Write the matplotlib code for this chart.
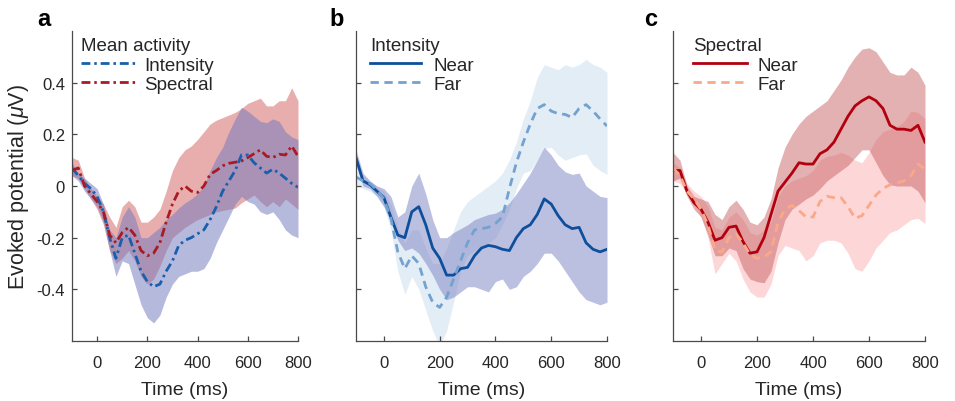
import matplotlib
matplotlib.use("Agg")
import matplotlib.pyplot as plt
import numpy as np

plt.rcParams["font.family"] = ["Liberation Sans", "DejaVu Sans"]
plt.rcParams["mathtext.fontset"] = "custom"
plt.rcParams["mathtext.rm"] = "Liberation Sans"
plt.rcParams["mathtext.it"] = "Liberation Sans:italic"
plt.rcParams["axes.unicode_minus"] = False

# sample times (ms)
TIME = list(range(-100, 801, 25))

# panel a: mean activity (Intensity / Spectral) with error bands
INT_MEAN = [0.07, 0.04, 0.01, -0.01, -0.04, -0.10, -0.20, -0.28, -0.20, -0.19,
            -0.26, -0.33, -0.37, -0.39, -0.38, -0.33, -0.29, -0.23, -0.21, -0.20,
            -0.185, -0.17, -0.13, -0.08, -0.02, 0.02, 0.06, 0.12, 0.12, 0.09,
            0.07, 0.05, 0.065, 0.05, 0.03, 0.01, -0.005]
INT_UP = [0.09, 0.05, 0.03, 0.01, -0.01, -0.07, -0.17, -0.20, -0.12, -0.08,
          -0.12, -0.20, -0.20, -0.18, -0.16, -0.13, -0.11, -0.085, -0.065, -0.05,
          -0.03, 0.0, 0.06, 0.11, 0.15, 0.21, 0.26, 0.305, 0.29, 0.27,
          0.25, 0.245, 0.26, 0.25, 0.21, 0.19, 0.18]
INT_LO = [0.04, 0.02, -0.02, -0.05, -0.08, -0.14, -0.25, -0.35, -0.29, -0.30,
          -0.38, -0.46, -0.51, -0.53, -0.50, -0.43, -0.38, -0.35, -0.34, -0.33,
          -0.33, -0.32, -0.28, -0.22, -0.17, -0.12, -0.07, -0.04, -0.06, -0.07,
          -0.10, -0.11, -0.10, -0.13, -0.17, -0.19, -0.20]
SPE_MEAN = [0.06, 0.07, 0.0, -0.03, -0.06, -0.10, -0.19, -0.22, -0.18, -0.16,
            -0.19, -0.25, -0.27, -0.26, -0.22, -0.14, -0.07, -0.02, 0.0, -0.02,
            -0.025, 0.0, 0.045, 0.06, 0.078, 0.088, 0.092, 0.097, 0.11, 0.125,
            0.14, 0.115, 0.11, 0.123, 0.12, 0.155, 0.115]
SPE_UP = [0.11, 0.10, 0.03, -0.01, -0.04, -0.07, -0.12, -0.16, -0.08, -0.055,
          -0.08, -0.14, -0.14, -0.12, -0.09, -0.02, 0.06, 0.11, 0.14, 0.155,
          0.18, 0.21, 0.24, 0.255, 0.265, 0.275, 0.285, 0.30, 0.32, 0.33,
          0.34, 0.31, 0.31, 0.33, 0.33, 0.38, 0.33]
SPE_LO = [0.04, 0.03, -0.01, -0.05, -0.09, -0.15, -0.25, -0.30, -0.28, -0.25,
          -0.29, -0.35, -0.38, -0.36, -0.31, -0.25, -0.20, -0.18, -0.16, -0.145,
          -0.13, -0.12, -0.11, -0.10, -0.095, -0.09, -0.085, -0.065, -0.05, -0.035,
          -0.06, -0.08, -0.06, -0.08, -0.05, -0.07, -0.09]

# panel b: Intensity, near vs far
BN_MEAN = [0.11, 0.02, 0.005, -0.02, -0.045, -0.12, -0.19, -0.20, -0.10, -0.08,
           -0.15, -0.24, -0.28, -0.345, -0.345, -0.32, -0.315, -0.27, -0.24, -0.23,
           -0.235, -0.245, -0.25, -0.20, -0.165, -0.15, -0.11, -0.05, -0.07, -0.115,
           -0.15, -0.165, -0.16, -0.22, -0.245, -0.255, -0.245]
BN_UP = [0.14, 0.05, 0.02, 0.0, -0.01, -0.04, -0.12, -0.10, 0.0, 0.05,
         -0.03, -0.13, -0.20, -0.20, -0.18, -0.165, -0.15, -0.13, -0.12, -0.11,
         -0.105, -0.09, -0.065, -0.03, 0.01, 0.05, 0.10, 0.15, 0.12, 0.08,
         0.055, 0.045, 0.05, 0.0, -0.02, -0.04, -0.045]
BN_LO = [0.08, 0.0, -0.01, -0.04, -0.08, -0.14, -0.21, -0.25, -0.24, -0.26,
         -0.30, -0.345, -0.40, -0.44, -0.43, -0.41, -0.39, -0.39, -0.40, -0.41,
         -0.37, -0.36, -0.40, -0.39, -0.35, -0.33, -0.30, -0.26, -0.26, -0.29,
         -0.33, -0.37, -0.41, -0.44, -0.45, -0.46, -0.45]
BF_MEAN = [0.035, 0.02, 0.01, -0.015, -0.05, -0.125, -0.255, -0.32, -0.27, -0.30,
           -0.39, -0.45, -0.47, -0.43, -0.36, -0.29, -0.22, -0.17, -0.165, -0.16,
           -0.145, -0.12, -0.01, 0.09, 0.17, 0.24, 0.30, 0.315, 0.29, 0.28,
           0.277, 0.265, 0.30, 0.315, 0.29, 0.26, 0.232]
BF_UP = [0.06, 0.04, 0.02, 0.0, -0.02, -0.07, -0.16, -0.22, -0.17, -0.17,
         -0.24, -0.30, -0.30, -0.24, -0.17, -0.10, -0.06, -0.04, -0.02, 0.0,
         0.02, 0.05, 0.10, 0.17, 0.26, 0.33, 0.42, 0.47, 0.46, 0.45,
         0.47, 0.46, 0.47, 0.49, 0.47, 0.46, 0.44]
BF_LO = [0.0, -0.01, -0.02, -0.04, -0.08, -0.17, -0.33, -0.42, -0.35, -0.40,
         -0.48, -0.56, -0.62, -0.56, -0.45, -0.33, -0.27, -0.25, -0.24, -0.22,
         -0.20, -0.15, -0.09, -0.01, 0.05, 0.06, 0.10, 0.145, 0.15, 0.12,
         0.10, 0.11, 0.12, 0.125, 0.08, 0.06, 0.045]

# panel c: Spectral, near vs far
CN_MEAN = [0.06, 0.06, -0.02, -0.065, -0.09, -0.14, -0.21, -0.20, -0.16, -0.155,
           -0.215, -0.26, -0.255, -0.20, -0.11, -0.02, 0.015, 0.05, 0.09, 0.085,
           0.085, 0.125, 0.14, 0.17, 0.22, 0.27, 0.31, 0.33, 0.345, 0.33,
           0.30, 0.235, 0.22, 0.22, 0.215, 0.235, 0.17]
CN_UP = [0.13, 0.10, 0.0, -0.04, -0.05, -0.06, -0.11, -0.13, -0.08, -0.055,
         -0.09, -0.14, -0.15, -0.12, -0.05, 0.07, 0.15, 0.20, 0.24, 0.27,
         0.29, 0.31, 0.33, 0.37, 0.41, 0.46, 0.50, 0.53, 0.535, 0.52,
         0.48, 0.44, 0.43, 0.43, 0.46, 0.44, 0.39]
CN_LO = [0.02, 0.03, -0.04, -0.09, -0.12, -0.19, -0.27, -0.27, -0.24, -0.25,
         -0.32, -0.36, -0.37, -0.375, -0.33, -0.22, -0.13, -0.09, -0.07, -0.05,
         -0.035, -0.01, 0.02, 0.04, 0.06, 0.08, 0.11, 0.14, 0.14, 0.09,
         0.04, 0.005, 0.0, 0.0, 0.0, -0.02, -0.065]
CF_MEAN = [0.07, 0.04, -0.02, -0.05, -0.09, -0.15, -0.25, -0.255, -0.20, -0.185,
           -0.22, -0.265, -0.28, -0.275, -0.255, -0.14, -0.09, -0.075, -0.095, -0.12,
           -0.12, -0.06, -0.04, -0.045, -0.045, -0.08, -0.125, -0.115, -0.075, -0.035,
           -0.01, 0.005, 0.012, 0.02, 0.04, 0.085, 0.065]
CF_UP = [0.09, 0.07, 0.01, -0.02, -0.04, -0.08, -0.16, -0.17, -0.12, -0.10,
         -0.13, -0.18, -0.19, -0.17, -0.14, -0.04, 0.0, 0.02, 0.03, 0.04,
         0.06, 0.10, 0.115, 0.12, 0.13, 0.12, 0.10, 0.09, 0.13, 0.18,
         0.21, 0.22, 0.23, 0.25, 0.29, 0.285, 0.26]
CF_LO = [0.02, 0.01, -0.03, -0.07, -0.12, -0.20, -0.34, -0.30, -0.26, -0.29,
         -0.36, -0.41, -0.43, -0.43, -0.38, -0.27, -0.23, -0.24, -0.25, -0.29,
         -0.27, -0.22, -0.21, -0.21, -0.22, -0.26, -0.32, -0.33, -0.29, -0.24,
         -0.21, -0.18, -0.17, -0.15, -0.13, -0.125, -0.145]

YTICKS = [-0.4, -0.2, 0, 0.2, 0.4]
YTICKLABELS = ["-0.4", "-0.2", "0", "0.2", "0.4"]
XTICKS = [0, 200, 400, 600, 800]

DASHDOT = (0, (3.2, 1.4, 0.9, 1.4))
DASHED = (0, (3.0, 2.0))
SPINE = "#4a4a4a"
TXT = "#262626"

W, H = 955, 402
fig = plt.figure(figsize=(W / 100, H / 100), dpi=100)


def px_axes(left, right, top=32, bottom=342):
    return fig.add_axes([left / W, 1 - bottom / H, (right - left) / W,
                         (bottom - top) / H])


def style(ax, show_ylabels):
    ax.set_xlim(-100, 800)
    ax.set_ylim(-0.6, 0.6)
    for s in ("top", "right"):
        ax.spines[s].set_visible(False)
    for s in ("left", "bottom"):
        ax.spines[s].set_color(SPINE)
        ax.spines[s].set_linewidth(0.9)
    ax.set_xticks(XTICKS)
    ax.set_yticks(YTICKS)
    if show_ylabels:
        ax.set_yticklabels(YTICKLABELS)
    else:
        ax.tick_params(axis="y", labelleft=False)
    ax.tick_params(direction="in", length=3.5, width=0.9, color=SPINE,
                   labelsize=12, labelcolor=TXT)
    ax.tick_params(axis="x", pad=10)
    ax.tick_params(axis="y", pad=5)
    ax.set_xlabel("Time (ms)", fontsize=14, color=TXT)
    ax.xaxis.set_label_coords(0.5, -0.13)


def legend(ax, title, anchor, hlen, tpad):
    leg = ax.legend(loc="upper left", bbox_to_anchor=anchor, frameon=False,
                    title=title, fontsize=13.5, title_fontsize=13.5,
                    handlelength=hlen, handletextpad=tpad, labelspacing=0.12,
                    borderpad=0, borderaxespad=0, alignment="left")
    leg.get_title().set_color(TXT)
    for t in leg.get_texts():
        t.set_color(TXT)


# ---- panel a
ax = px_axes(72, 298)
ax.fill_between(TIME, SPE_LO, SPE_UP, color="#d25e5e", alpha=0.5, lw=0)
ax.fill_between(TIME, INT_LO, INT_UP, color="#6c77bd", alpha=0.5, lw=0)
ax.plot(TIME, INT_MEAN, color="#1a5fad", lw=2.0, ls=DASHDOT, label="Intensity")
ax.plot(TIME, SPE_MEAN, color="#ab1a24", lw=2.0, ls=DASHDOT, label="Spectral")
style(ax, True)
ax.set_ylabel(r"Evoked potential ($\mu$V)", fontsize=15.5, color=TXT)
ax.yaxis.set_label_coords(-0.18, 0.5)
legend(ax, "Mean activity", (0.04, 0.98), 2.9, 0.45)

# ---- panel b
ax = px_axes(356, 607)
ax.fill_between(TIME, BF_LO, BF_UP, color="#cddff0", alpha=0.55, lw=0)
ax.fill_between(TIME, BN_LO, BN_UP, color="#7b82c2", alpha=0.5, lw=0)
ax.plot(TIME, BN_MEAN, color="#0d4f9c", lw=2.0, label="Near")
ax.plot(TIME, BF_MEAN, color="#74a2d0", lw=2.0, ls=DASHED, label="Far")
style(ax, False)
legend(ax, "Intensity", (0.055, 0.98), 2.75, 0.65)

# ---- panel c
ax = px_axes(673, 925)
ax.fill_between(TIME, CF_LO, CF_UP, color="#fcaeb0", alpha=0.5, lw=0)
ax.fill_between(TIME, CN_LO, CN_UP, color="#c86466", alpha=0.5, lw=0)
ax.plot(TIME, CN_MEAN, color="#b3000f", lw=2.0, label="Near")
ax.plot(TIME, CF_MEAN, color="#f9a98a", lw=2.0, ls=DASHED, label="Far")
style(ax, False)
legend(ax, "Spectral", (0.08, 0.98), 2.85, 0.6)

for x, letter in ((44, "a"), (337, "b"), (651, "c")):
    fig.text(x / W, 1 - 20 / H, letter, fontsize=17, fontweight="bold",
             ha="center", va="center", color="black")

fig.savefig("out.png", dpi=100)
